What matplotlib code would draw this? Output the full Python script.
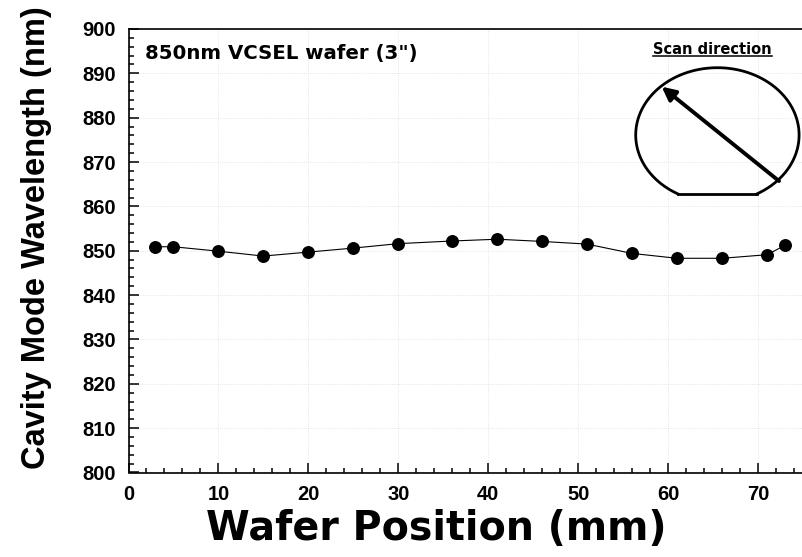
import numpy as np
import matplotlib
matplotlib.use("Agg")
import matplotlib.pyplot as plt
from matplotlib.ticker import MultipleLocator

#### wafer scan data: position along the scan (mm) vs cavity mode wavelength (nm)
position_mm = [3, 5, 10, 15, 20, 25, 30, 36, 41, 46, 51, 56, 61, 66, 71, 73]
wavelength_nm = [850.9, 850.9, 849.9, 848.8, 849.7, 850.6, 851.6, 852.2,
                 852.6, 852.1, 851.5, 849.4, 848.3, 848.3, 849.1, 851.2]

x_ticks = [0, 10, 20, 30, 40, 50, 60, 70]
y_ticks = [800, 810, 820, 830, 840, 850, 860, 870, 880, 890, 900]

sample_label = '850nm VCSEL wafer (3")'
scan_label = "Scan direction"

W, H = 802, 557
fig = plt.figure(figsize=(W / 100, H / 100), dpi=100)

## main axes, placed in pixels
left, right, top, bottom = 128.5, 802, 29, 472.5
ax = fig.add_axes([left / W, 1 - bottom / H, (right - left) / W, (bottom - top) / H])

ax.plot(position_mm, wavelength_nm, color="black", lw=0.8,
        marker="o", markersize=8.3, markerfacecolor="black", markeredgecolor="black")

ax.set_xlim(0, 74.9)
ax.set_ylim(800, 900)
ax.set_xticks(x_ticks)
ax.set_yticks(y_ticks)
ax.xaxis.set_minor_locator(MultipleLocator(2))
ax.yaxis.set_minor_locator(MultipleLocator(2))

for s in ["top", "left", "bottom"]:
    ax.spines[s].set_linewidth(1.2)
ax.spines["right"].set_visible(False)

ax.tick_params(which="both", direction="in", width=1.1, color="black")
ax.tick_params(which="major", length=7, labelsize=14.5, pad=9)
ax.tick_params(which="minor", length=3.5)
for lab in ax.get_xticklabels() + ax.get_yticklabels():
    lab.set_fontfamily("Liberation Sans")
    lab.set_fontweight("heavy")

ax.grid(True, which="major", color="#dddddd", lw=0.6, ls=":")
ax.set_axisbelow(True)

ax.set_xlabel("Wafer Position (mm)", fontsize=28.5, fontweight="heavy",
              family="DejaVu Sans")
ax.xaxis.set_label_coords(0.4566, -0.083)
ax.set_ylabel("Cavity Mode Wavelength (nm)", fontsize=23.5, fontweight="heavy",
              family="Liberation Sans")
ax.yaxis.set_label_coords(-0.114, 0.529)

## overlay in pixel units for the text box and the wafer sketch
ov = fig.add_axes([0, 0, 1, 1], facecolor="none")
ov.set_xlim(0, W)
ov.set_ylim(H, 0)
ov.axis("off")

ov.text(145, 53, sample_label, fontsize=14.2, fontweight="heavy",
        family="DejaVu Sans", ha="left", va="center")

ov.text(712.5, 49, scan_label, fontsize=10.5, fontweight="heavy",
        family="DejaVu Sans", ha="center", va="center")
ov.plot([653, 772], [55.5, 55.5], color="black", lw=1.1)

# wafer outline: ellipse with a flat at the bottom
cx, cy, rx, ry = 717.4, 135, 81.7, 67.3
flat_y = 194
t0 = np.arcsin((flat_y - cy) / ry)
t = np.linspace(t0, np.pi - t0 - 2 * np.pi, 300)
ov.plot(cx + rx * np.cos(t), cy + ry * np.sin(t), color="black", lw=2.0)
fx = rx * np.cos(t0)
ov.plot([cx - fx, cx + fx], [flat_y, flat_y], color="black", lw=2.0)

ov.annotate("", xy=(661.7, 86.7), xytext=(779, 181),
            arrowprops=dict(arrowstyle="-|>", lw=2.8, color="black",
                            mutation_scale=20, shrinkA=0, shrinkB=0))

fig.savefig("out.png", dpi=100)
